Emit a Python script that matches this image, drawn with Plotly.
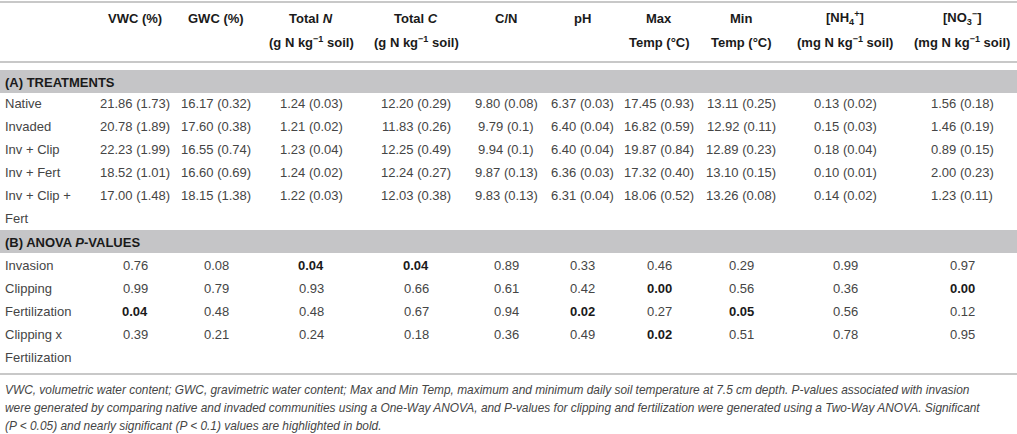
import plotly.graph_objects as go

W, H = 1017, 434

# column headers (two lines)
head_top = ["VWC (%)", "GWC (%)", "Total <i>N</i>", "Total <i>C</i>", "C/N", "pH",
            "Max", "Min", "[NH<sub>4</sub><sup>+</sup>]", "[NO<sub>3</sub><sup>−</sup>]"]
head_bottom = ["", "", "(g N kg<sup>−1</sup> soil)", "(g N kg<sup>−1</sup> soil)", "", "",
               "Temp (°C)", "Temp (°C)", "(mg N kg<sup>−1</sup> soil)", "(mg N kg<sup>−1</sup> soil)"]

# (A) treatments: mean (SE)
treatments = ["Native", "Invaded", "Inv + Clip", "Inv + Fert", "Inv + Clip +\nFert"]
vwc = ["21.86 (1.73)", "20.78 (1.89)", "22.23 (1.99)", "18.52 (1.01)", "17.00 (1.48)"]
gwc = ["16.17 (0.32)", "17.60 (0.38)", "16.55 (0.74)", "16.60 (0.69)", "18.15 (1.38)"]
total_n = ["1.24 (0.03)", "1.21 (0.02)", "1.23 (0.04)", "1.24 (0.02)", "1.22 (0.03)"]
total_c = ["12.20 (0.29)", "11.83 (0.26)", "12.25 (0.49)", "12.24 (0.27)", "12.03 (0.38)"]
cn = ["9.80 (0.08)", "9.79 (0.1)", "9.94 (0.1)", "9.87 (0.13)", "9.83 (0.13)"]
ph = ["6.37 (0.03)", "6.40 (0.04)", "6.40 (0.04)", "6.36 (0.03)", "6.31 (0.04)"]
max_temp = ["17.45 (0.93)", "16.82 (0.59)", "19.87 (0.84)", "17.32 (0.40)", "18.06 (0.52)"]
min_temp = ["13.11 (0.25)", "12.92 (0.11)", "12.89 (0.23)", "13.10 (0.15)", "13.26 (0.08)"]
nh4 = ["0.13 (0.02)", "0.15 (0.03)", "0.18 (0.04)", "0.10 (0.01)", "0.14 (0.02)"]
no3 = ["1.56 (0.18)", "1.46 (0.19)", "0.89 (0.15)", "2.00 (0.23)", "1.23 (0.11)"]
treatment_cols = [vwc, gwc, total_n, total_c, cn, ph, max_temp, min_temp, nh4, no3]

# (B) ANOVA p-values
effects = ["Invasion", "Clipping", "Fertilization", "Clipping x\nFertilization"]
p_vwc = [0.76, 0.99, 0.04, 0.39]
p_gwc = [0.08, 0.79, 0.48, 0.21]
p_n = [0.04, 0.93, 0.48, 0.24]
p_c = [0.04, 0.66, 0.67, 0.18]
p_cn = [0.89, 0.61, 0.94, 0.36]
p_ph = [0.33, 0.42, 0.02, 0.49]
p_max = [0.46, 0.00, 0.27, 0.02]
p_min = [0.29, 0.56, 0.05, 0.51]
p_nh4 = [0.99, 0.36, 0.56, 0.78]
p_no3 = [0.97, 0.00, 0.12, 0.95]
p_cols = [p_vwc, p_gwc, p_n, p_c, p_cn, p_ph, p_max, p_min, p_nh4, p_no3]

footnote = [
    "VWC, volumetric water content; GWC, gravimetric water content; Max and Min Temp, maximum and minimum daily soil temperature at 7.5 cm depth. P-values associated with invasion",
    "were generated by comparing native and invaded communities using a One-Way ANOVA, and P-values for clipping and fertilization were generated using a Two-Way ANOVA. Significant",
    "(P &lt; 0.05) and nearly significant (P &lt; 0.1) values are highlighted in bold.",
]

# layout
col_x = [135, 216, 311, 416, 506, 582, 659, 741, 845, 962]
row_h = 23
FONT = "Liberation Sans"
TXT = "#454545"
HEAD = "#1a1a1a"
GREY = "#c5c5c7"
LINE = "#c8c8c8"
FS = 13

ann = []


def add(x, y, text, anchor="center", size=FS, color=TXT):
    ann.append(dict(x=x, y=y, text=text, xref="x", yref="y", showarrow=False,
                    xanchor=anchor, yanchor="middle",
                    font=dict(family=FONT, size=size, color=color)))


for i, x in enumerate(col_x):
    add(x, 18, "<b>" + head_top[i] + "</b>", color=HEAD)
    if head_bottom[i]:
        add(x, 42, "<b>" + head_bottom[i] + "</b>", color=HEAD)

# section A
add(3, 82, "<b>(A) TREATMENTS</b>", anchor="left", color=HEAD)
y0 = 103
for r, name in enumerate(treatments):
    y = y0 + r * row_h
    for k, part in enumerate(name.split("\n")):
        add(3, y + k * row_h, part, anchor="left")
    for c, col in enumerate(treatment_cols):
        add(col_x[c], y, col[r])

# section B
add(3, 242, "<b>(B) ANOVA <i>P</i>-VALUES</b>", anchor="left", color=HEAD)
y1 = 265
for r, name in enumerate(effects):
    y = y1 + r * row_h
    for k, part in enumerate(name.split("\n")):
        add(3, y + k * row_h, part, anchor="left")
    for c, col in enumerate(p_cols):
        txt = "%.2f" % col[r]
        if col[r] <= 0.05:
            add(col_x[c], y, "<b>" + txt + "</b>", color=HEAD)
        else:
            add(col_x[c], y, txt)

for k, line in enumerate(footnote):
    add(3, 390 + k * 18, "<i>" + line + "</i>", anchor="left", size=11.9)

shapes = []
for yl in [2, 62, 374]:
    shapes.append(dict(type="line", xref="x", yref="y", x0=0, x1=W, y0=yl, y1=yl,
                       line=dict(color=LINE, width=2)))
for (ya, yb) in [(70, 93), (230, 253)]:
    shapes.append(dict(type="rect", xref="x", yref="y", x0=0, x1=W, y0=ya, y1=yb,
                       fillcolor=GREY, line=dict(width=0), layer="below"))

fig = go.Figure()
fig.update_layout(
    width=W, height=H,
    margin=dict(l=0, r=0, t=0, b=0),
    plot_bgcolor="white", paper_bgcolor="white",
    xaxis=dict(range=[0, W], visible=False, fixedrange=True),
    yaxis=dict(range=[H, 0], visible=False, fixedrange=True),
    annotations=ann, shapes=shapes, showlegend=False,
)

# drop the default page margin so the table sits at the window's corner
fig.write_html("out.html", config={"displayModeBar": False},
               post_script="document.body.style.margin='0';document.body.style.overflow='hidden';")
